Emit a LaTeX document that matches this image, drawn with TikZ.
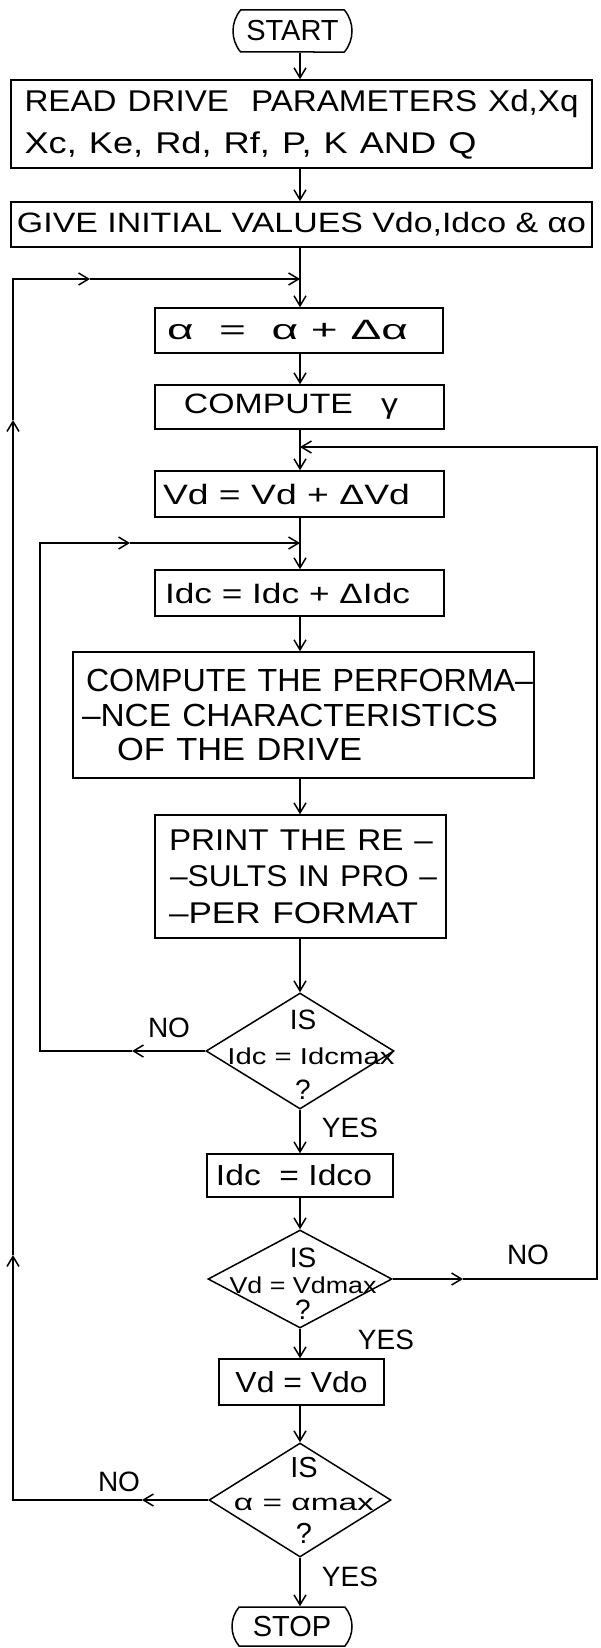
\documentclass[tikz,border=0pt]{standalone}
\usepackage{fontspec}
\setmainfont{Liberation Sans}
\usepackage{graphicx}
\usetikzlibrary{shapes.geometric,shapes.misc,arrows.meta}
\newcommand{\fitw}[2]{\resizebox{#1}{\height}{#2}}
\begin{document}
\begin{tikzpicture}[x=1pt,y=-1pt,
  line width=1.5pt,
  >={Straight Barb[length=10pt,width=12pt]},
  box/.style={draw, rectangle, inner sep=0pt, font=\fontsize{28}{34}\selectfont},
  term/.style={draw, rounded rectangle, rounded rectangle arc length=80, inner sep=0pt, font=\fontsize{29}{34}\selectfont},
  decision/.style={draw, diamond, inner sep=0pt},
  dtext/.style={align=center, inner sep=0pt},
  lbl/.style={font=\fontsize{28}{30}\selectfont, inner sep=0pt}]
\fill[white] (0,0) rectangle (601,1648);
\useasboundingbox (0,0) rectangle (601,1648);
\coordinate (mx) at (300,0);

% nodes
\node[term, minimum width=119pt, minimum height=42pt] (start) at (292.5,31) {START};
\node[box, minimum width=581pt, minimum height=88pt, font=\fontsize{30}{42}\selectfont, text width=554pt, align=left] (read) at (301.5,124)
  {\fitw{554pt}{READ DRIVE\ \ PARAMETERS Xd,Xq}\\ \fitw{452pt}{Xc, Ke, Rd, Rf, P, K AND Q}};
\node[box, minimum width=581pt, minimum height=45pt] (give) at (301.5,224.5)
  {\fitw{569pt}{GIVE INITIAL VALUES Vdo,Idco \& αo}};
\coordinate (j1) at (300,279);
\node[box, minimum width=288pt, minimum height=45pt] (alpha) at (299,330.5)
  {\fitw{241pt}{α\ \ =\ \ α + Δα}\hspace*{23pt}};
\node[box, minimum width=289pt, minimum height=44pt] (gam) at (299.5,407)
  {\fitw{214pt}{COMPUTE\ \ \ γ}\hspace*{17pt}};
\coordinate (j2) at (300,447);
\node[box, minimum width=289pt, minimum height=46pt] (vd) at (299.5,494)
  {\fitw{247pt}{Vd = Vd + ΔVd}\hspace*{26pt}};
\coordinate (j3) at (300,543);
\node[box, minimum width=289pt, minimum height=46pt] (idc) at (299.5,593)
  {\fitw{245pt}{Idc = Idc + ΔIdc}\hspace*{24pt}};
\node[box, minimum width=461pt, minimum height=126pt, font=\fontsize{32}{34.5}\selectfont, text width=460pt, align=left] (perf) at (303.5,715)
  {\hspace*{12.5pt}\fitw{447pt}{COMPUTE THE PERFORMA–}\\ \hspace*{8.5pt}\fitw{416pt}{–NCE CHARACTERISTICS}\\ \hspace*{43.5pt}\fitw{245pt}{OF THE DRIVE}};
\node[box, minimum width=291pt, minimum height=123pt, font=\fontsize{30}{36.5}\selectfont, text width=274pt, align=left] (print) at (300.5,876.5)
  {\hspace*{5.5pt}\fitw{264pt}{PRINT THE RE –}\\ \hspace*{6.5pt}\fitw{267pt}{–SULTS IN PRO –}\\ \hspace*{5.5pt}\fitw{249pt}{–PER FORMAT}};
\node[decision, minimum width=188pt, minimum height=116pt] (d1) at (300,1051) {};
\node[dtext, font=\fontsize{28}{35}\selectfont] (d1t) at (303,1055)
  {IS\\ \hspace*{16pt}{\fontsize{23}{35}\selectfont\fitw{167pt}{Idc = Idcmax}}\\ ?};
\node[box, minimum width=186pt, minimum height=43pt, font=\fontsize{29}{34}\selectfont] (idco) at (300,1175.5)
  {\fitw{156pt}{Idc\ \ = Idco}\hspace*{12pt}};
\node[decision, minimum width=184pt, minimum height=98pt] (d2) at (300,1279) {};
\node[dtext, font=\fontsize{28}{26}\selectfont] (d2t) at (303,1284)
  {IS\\ {\fontsize{23}{26}\selectfont\fitw{147pt}{Vd = Vdmax}}\\ ?};
\node[box, minimum width=165pt, minimum height=46pt, font=\fontsize{29}{34}\selectfont] (vdo) at (301.5,1382)
  {\fitw{132pt}{Vd = Vdo}};
\node[decision, minimum width=182pt, minimum height=114pt] (d3) at (300,1500) {};
\node[dtext, font=\fontsize{29}{33}\selectfont] (d3t) at (304,1500)
  {IS\\ {\fontsize{23}{33}\selectfont\fitw{140pt}{α = αmax}}\\ ?};
\node[term, minimum width=120pt, minimum height=39pt] (stop) at (292,1626.5) {STOP};

% labels
\node[lbl] (no1) at (169,1028) {NO};
\node[lbl] (yes1) at (350,1128) {YES};
\node[lbl] (no2) at (528,1255) {NO};
\node[lbl] (yes2) at (386,1340) {YES};
\node[lbl] (no3) at (119,1482) {NO};
\node[lbl] (yes3) at (350,1577) {YES};

% main chain
\draw[->] (start.south -| mx) -- (read.north -| mx);
\draw[->] (read.south -| mx) -- (give.north -| mx);
\draw[->] (give.south -| mx) -- (alpha.north -| mx);
\draw[->] (alpha.south -| mx) -- (gam.north -| mx);
\draw[->] (gam.south -| mx) -- (vd.north -| mx);
\draw[->] (vd.south -| mx) -- (idc.north -| mx);
\draw[->] (idc.south -| mx) -- (perf.north -| mx);
\draw[->] (perf.south -| mx) -- (print.north -| mx);
\draw[->] (print.south -| mx) -- (d1.north);
\draw[->] (d1.south) -- (idco.north -| mx);
\draw[->] (idco.south -| mx) -- (d2.north);
\draw[->] (d2.south) -- (vdo.north -| mx);
\draw[->] (vdo.south -| mx) -- (d3.north);
\draw[->] (d3.south) -- (stop.north -| mx);

% outer loop (alpha)
\coordinate (oBL) at (13,1500);
\coordinate (oTL) at (13,279);
\coordinate (oA1) at (142,1500);
\coordinate (oA2) at (13,1255);
\coordinate (oA3) at (13,420);
\coordinate (oA4) at (90,279);
\draw[->] (d3.west) -- (oA1);
\draw[->] (oA1) -- (oBL) -- (oA2);
\draw[->] (oA2) -- (oA3);
\draw[->] (oA3) -- (oTL) -- (oA4);
\draw[->] (oA4) -- (j1);

% inner loop (Idc)
\coordinate (iBL) at (40,1051);
\coordinate (iTL) at (40,543);
\coordinate (iA1) at (132,1051);
\coordinate (iA2) at (130,543);
\draw[->] (d1.west) -- (iA1);
\draw[->] (iA1) -- (iBL) -- (iTL) -- (iA2);
\draw[->] (iA2) -- (j3);

% right loop (Vd)
\coordinate (rBR) at (597,1279);
\coordinate (rTR) at (597,447);
\coordinate (rA1) at (463,1279);
\draw[->] (d2.east) -- (rA1);
\draw[->] (rA1) -- (rBR) -- (rTR) -- (j2);
\end{tikzpicture}
\end{document}
